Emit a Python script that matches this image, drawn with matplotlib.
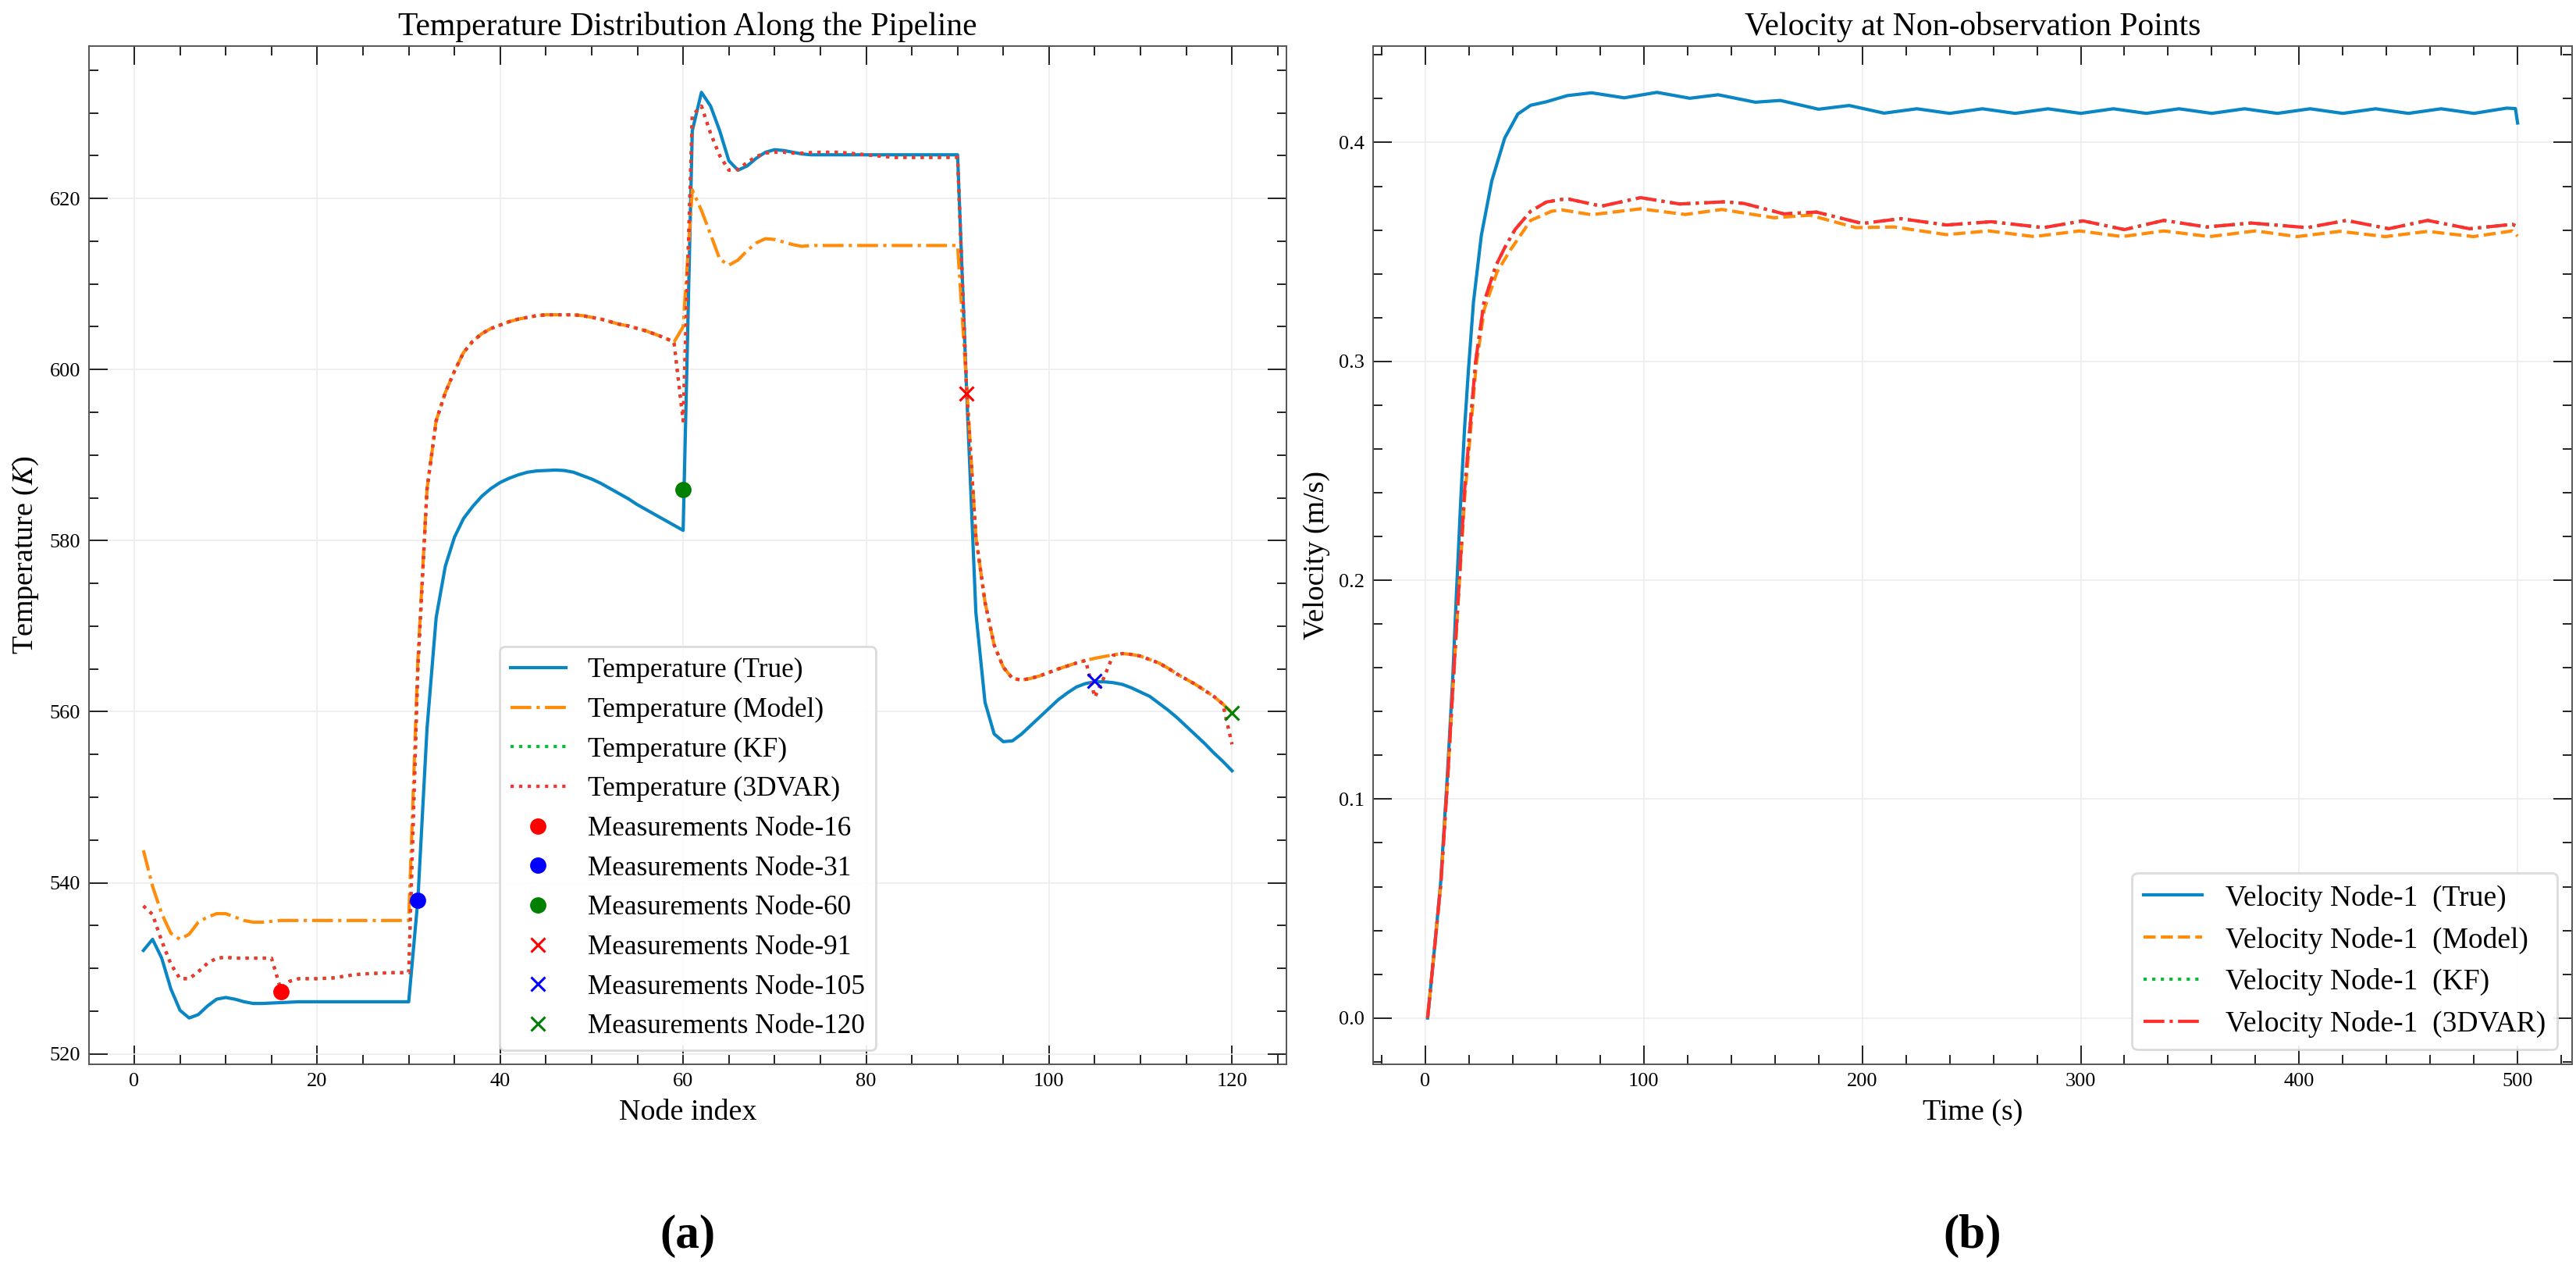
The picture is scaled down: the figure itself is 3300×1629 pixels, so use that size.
import matplotlib
matplotlib.use("Agg")
import matplotlib.pyplot as plt
from matplotlib.ticker import MultipleLocator

plt.rcParams['font.family'] = ['Liberation Serif', 'DejaVu Serif']
plt.rcParams['mathtext.fontset'] = 'stix'

# ---------------- (a) temperature along the pipeline ----------------
nodes = list(range(1, 121))

temp_true = [
    532.1, 533.4, 531.2, 527.6, 525.1, 524.2, 524.6, 525.6, 526.4, 526.6,
    526.4, 526.1, 525.9, 525.9, 525.95, 526.0, 526.05, 526.1, 526.1, 526.1,
    526.1, 526.1, 526.1, 526.1, 526.1, 526.1, 526.1, 526.1, 526.1, 526.1,
    538.0, 558.0, 571.0, 577.0, 580.4, 582.6, 584.0, 585.2, 586.1, 586.8,
    587.3, 587.7, 588.0, 588.15, 588.2, 588.25, 588.2, 588.0, 587.6, 587.2,
    586.7, 586.1, 585.5, 584.9, 584.2, 583.6, 583.0, 582.4, 581.8, 581.2,
    627.9, 632.4, 630.8, 627.9, 624.4, 623.3, 623.8, 624.7, 625.4, 625.7,
    625.6, 625.4, 625.2, 625.1, 625.1, 625.1, 625.1, 625.1, 625.1, 625.1,
    625.1, 625.1, 625.1, 625.1, 625.1, 625.1, 625.1, 625.1, 625.1, 625.1,
    597.2, 571.6, 561.1, 557.4, 556.5, 556.6, 557.4, 558.4, 559.4, 560.4,
    561.4, 562.2, 562.9, 563.3, 563.5, 563.5, 563.4, 563.2, 562.8, 562.3,
    561.8, 561.0, 560.2, 559.3, 558.3, 557.3, 556.3, 555.2, 554.2, 553.1,
]

temp_model = [
    543.8, 539.6, 536.4, 534.1, 533.4, 534.0, 535.4, 536.0, 536.4, 536.4,
    536.0, 535.6, 535.4, 535.4, 535.5, 535.6, 535.6, 535.6, 535.6, 535.6,
    535.6, 535.6, 535.6, 535.6, 535.6, 535.6, 535.6, 535.6, 535.6, 535.6,
    566.0, 586.0, 594.0, 597.3, 599.8, 602.0, 603.3, 604.2, 604.8, 605.2,
    605.6, 605.9, 606.1, 606.3, 606.4, 606.4, 606.4, 606.4, 606.3, 606.1,
    605.9, 605.6, 605.3, 605.1, 604.8, 604.5, 604.1, 603.7, 603.2, 605.0,
    621.0, 618.6, 615.8, 612.9, 612.2, 612.8, 613.9, 614.8, 615.3, 615.2,
    614.9, 614.6, 614.4, 614.5, 614.5, 614.5, 614.5, 614.5, 614.5, 614.5,
    614.5, 614.5, 614.5, 614.5, 614.5, 614.5, 614.5, 614.5, 614.5, 614.5,
    598.0, 580.5, 572.8, 567.8, 565.2, 563.9, 563.7, 563.9, 564.2, 564.6,
    565.0, 565.35, 565.7, 566.0, 566.25, 566.45, 566.65, 566.8, 566.7, 566.5,
    566.1, 565.7, 565.1, 564.4, 563.8, 563.2, 562.5, 561.8, 560.9, 559.9,
]

temp_3dvar = [
    537.3, 536.3, 533.2, 530.5, 528.8, 528.8, 529.6, 530.6, 531.2, 531.3,
    531.2, 531.2, 531.2, 531.2, 531.2, 527.6, 528.5, 528.8, 528.8, 528.8,
    528.85, 528.9, 529.1, 529.25, 529.35, 529.4, 529.45, 529.5, 529.5, 529.5,
    565.0, 586.0, 594.0, 597.3, 599.8, 602.0, 603.3, 604.2, 604.8, 605.2,
    605.6, 605.9, 606.1, 606.3, 606.4, 606.4, 606.4, 606.4, 606.3, 606.1,
    605.9, 605.6, 605.3, 605.1, 604.8, 604.5, 604.1, 603.7, 603.2, 594.0,
    629.7, 630.8, 627.6, 625.0, 623.3, 623.4, 624.2, 624.9, 625.3, 625.4,
    625.4, 625.3, 625.3, 625.35, 625.4, 625.4, 625.4, 625.3, 625.2, 625.1,
    625.0, 624.9, 624.8, 624.8, 624.8, 624.8, 624.8, 624.8, 624.8, 624.8,
    597.3, 580.5, 572.8, 567.8, 565.2, 563.9, 563.7, 563.9, 564.2, 564.6,
    565.0, 565.35, 565.7, 566.0, 561.7, 564.0, 566.6, 566.8, 566.7, 566.5,
    566.1, 565.7, 565.1, 564.4, 563.8, 563.2, 562.5, 561.8, 560.9, 556.2,
]

# KF estimate lies exactly under the 3DVAR curve in the figure
temp_kf = list(temp_3dvar)

meas_nodes = [16, 31, 60, 91, 105, 120]
meas_values = [527.3, 538.0, 586.0, 597.2, 563.6, 559.9]
meas_markers = ['o', 'o', 'o', 'x', 'x', 'x']
meas_colors = ['red', 'blue', 'green', 'red', 'blue', 'green']

# ---------------- (b) velocity at node 1 ----------------
t_true = [1, 4, 7, 10, 12.5, 14.3, 16.1, 17.9, 19.7, 22, 25.6, 30.4, 36.3,
          42.3, 48.2, 55.4, 64.9, 76, 91, 106, 121, 134, 151, 162.5, 180,
          194, 210, 225, 240, 255, 270, 285, 300, 315, 330, 345, 360, 375,
          390, 405, 420, 435, 450, 465, 480, 495, 499, 500]
v_true = [0.0, 0.030, 0.062, 0.110, 0.155, 0.196, 0.235, 0.269, 0.296, 0.327,
          0.3575, 0.3825, 0.402, 0.413, 0.417, 0.4186, 0.4214, 0.4227, 0.4204,
          0.4229, 0.4202, 0.4218, 0.4184, 0.4192, 0.4152, 0.4169, 0.4134,
          0.4154, 0.4133, 0.4154, 0.4133, 0.4154, 0.4133, 0.4154, 0.4133,
          0.4154, 0.4133, 0.4154, 0.4133, 0.4154, 0.4133, 0.4154, 0.4133,
          0.4154, 0.4133, 0.4157, 0.4155, 0.4089]

t_model = [1, 4.2, 7.1, 10.1, 12.5, 15.5, 18.0, 20.5, 23.2, 27.0, 32.8, 38.7,
           48.2, 57.8, 62.5, 76, 98.5, 119, 135.7, 159.6, 176, 197, 214.6,
           238.5, 257.8, 278.6, 299.5, 319, 338, 359, 380, 399, 418.6, 439.5,
           458.8, 479.7, 497.6, 500]
v_model = [0.0, 0.032, 0.062, 0.108, 0.149, 0.198, 0.238, 0.266, 0.2978, 0.324,
           0.3408, 0.3506, 0.3644, 0.3686, 0.3692, 0.3670, 0.3697, 0.3671,
           0.3694, 0.3656, 0.3668, 0.3611, 0.3614, 0.3579, 0.3596, 0.3570,
           0.3596, 0.3570, 0.3596, 0.3570, 0.3596, 0.3570, 0.3594, 0.3570,
           0.3594, 0.3570, 0.3596, 0.3572]

t_3dvar = [1, 4.2, 7.1, 10.1, 12.5, 15.5, 17.9, 20.3, 23.0, 26.8, 32.2, 36.3,
           41.1, 48.2, 55.4, 62.5, 65.8, 80.6, 98.5, 116.4, 137.2, 146, 164,
           179, 200, 217.6, 238.5, 259, 283, 301, 320, 338, 357.6, 378, 403.7,
           421.6, 441, 458.8, 478, 497.6, 500]
v_3dvar = [0.0, 0.032, 0.062, 0.108, 0.150, 0.200, 0.2408, 0.2686, 0.300,
           0.3269, 0.3436, 0.3519, 0.3603, 0.3686, 0.3728, 0.3740, 0.3741,
           0.3709, 0.3748, 0.3719, 0.3729, 0.3721, 0.3674, 0.3682, 0.3630,
           0.3652, 0.3623, 0.3638, 0.3611, 0.3642, 0.3602, 0.3644, 0.3614,
           0.3632, 0.3611, 0.3644, 0.3606, 0.3644, 0.3606, 0.3626, 0.3615]

t_kf = list(t_3dvar)
v_kf = list(v_3dvar)

C_TRUE = '#0a86c4'
C_MODEL = '#ff8c0a'
C_KF = '#12b83c'
C_3DVAR = '#ff3030'


def style_axes(ax):
    ax.tick_params(which='both', direction='in', top=True, right=True,
                   width=0.7, color='#222222', labelsize=9.5)
    ax.tick_params(which='major', length=8.6, pad=4)
    ax.tick_params(which='minor', length=4.3)
    for sp in ax.spines.values():
        sp.set_color('#555555')
        sp.set_linewidth(0.7)
    ax.grid(True, which='major', color='#ececec', linewidth=0.6)
    ax.set_axisbelow(True)


fig = plt.figure(figsize=(16.5, 8.145), dpi=200)
ax1 = fig.add_axes([114 / 3300, 1 - 1363 / 1629, 1534 / 3300, 1304 / 1629])
ax2 = fig.add_axes([1759 / 3300, 1 - 1363 / 1629, 1536 / 3300, 1304 / 1629])

# left panel
ax1.plot(nodes, temp_true, color=C_TRUE, lw=1.5, label='Temperature (True)')
ax1.plot(nodes, temp_model, color=C_MODEL, lw=1.5, ls='-.', label='Temperature (Model)')
ax1.plot(nodes, temp_kf, color=C_KF, lw=1.5, ls=':', label='Temperature (KF)')
ax1.plot(nodes, temp_3dvar, color=C_3DVAR, lw=1.5, ls=':', label='Temperature (3DVAR)')
for n, v, m, c in zip(meas_nodes, meas_values, meas_markers, meas_colors):
    if m == 'o':
        ax1.plot([n], [v], ls='none', marker='o', ms=6.5, color=c,
                 label='Measurements Node-%d' % n, zorder=5)
    else:
        ax1.plot([n], [v], ls='none', marker='x', ms=6.5, mew=1.1, color=c,
                 label='Measurements Node-%d' % n, zorder=5)

ax1.xaxis.set_major_locator(MultipleLocator(20))
ax1.xaxis.set_minor_locator(MultipleLocator(5))
ax1.yaxis.set_major_locator(MultipleLocator(20))
ax1.yaxis.set_minor_locator(MultipleLocator(5))
style_axes(ax1)
ax1.set_title('Temperature Distribution Along the Pipeline', fontsize=15, pad=5)
ax1.set_xlabel('Node index', fontsize=13.7)
ax1.set_ylabel('Temperature ($K$)', fontsize=13.7)
ax1.legend(loc='lower center', fontsize=12.7, frameon=True, fancybox=True,
           edgecolor='#d8d8d8', framealpha=0.9)

# right panel
ax2.plot(t_true, v_true, color=C_TRUE, lw=1.5, label='Velocity Node-1  (True)')
ax2.plot(t_model, v_model, color=C_MODEL, lw=1.5, ls='--', label='Velocity Node-1  (Model)')
ax2.plot(t_kf, v_kf, color=C_KF, lw=1.5, ls=':', label='Velocity Node-1  (KF)')
ax2.plot(t_3dvar, v_3dvar, color=C_3DVAR, lw=1.5, ls='-.', label='Velocity Node-1  (3DVAR)')

ax2.xaxis.set_major_locator(MultipleLocator(100))
ax2.xaxis.set_minor_locator(MultipleLocator(20))
ax2.yaxis.set_major_locator(MultipleLocator(0.1))
ax2.yaxis.set_minor_locator(MultipleLocator(0.02))
style_axes(ax2)
ax2.set_title('Velocity at Non-observation Points', fontsize=15, pad=5)
ax2.set_xlabel('Time (s)', fontsize=13.7)
ax2.set_ylabel('Velocity (m/s)', fontsize=13.7)
ax2.legend(loc='lower right', fontsize=13.5, frameon=True, fancybox=True,
           edgecolor='#d8d8d8', framealpha=0.9)

# panel letters
fig.text(0.5 * (114 + 1648) / 3300, 0.028, '(a)', ha='center', va='center',
         fontsize=22, fontweight='bold')
fig.text(0.5 * (1759 + 3295) / 3300, 0.028, '(b)', ha='center', va='center',
         fontsize=22, fontweight='bold')

fig.savefig('out.png', dpi=200)
